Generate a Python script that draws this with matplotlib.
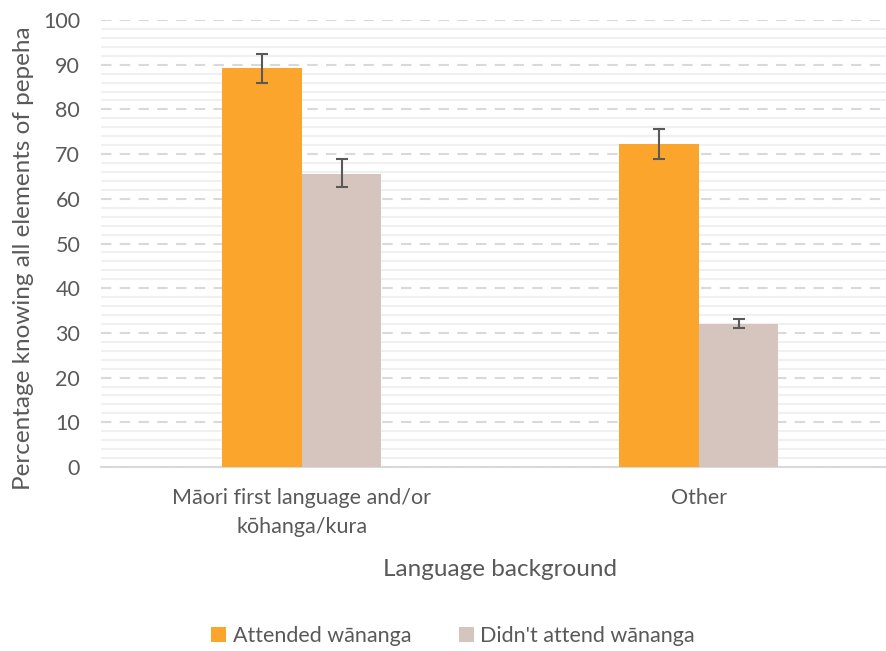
import numpy as np
import matplotlib
matplotlib.use("Agg")
import matplotlib.pyplot as plt
from matplotlib.ticker import MultipleLocator

# data
categories = ["Māori first language and/or\nkōhanga/kura", "Other"]
series_names = ["Attended wānanga", "Didn't attend wānanga"]
attended = [89.2, 72.2]
attended_err_low = [3.4, 3.2]
attended_err_high = [3.3, 3.4]
not_attended = [65.6, 32.1]
not_attended_err_low = [3.0, 1.1]
not_attended_err_high = [3.3, 1.1]
y_ticks = [0, 10, 20, 30, 40, 50, 60, 70, 80, 90, 100]

ORANGE = "#FBA52D"
BEIGE = "#D5C5BE"
TEXT = "#595959"

plt.rcParams['font.family'] = ['Lato', 'DejaVu Sans']

fig = plt.figure(figsize=(8.87, 6.51), dpi=100)
ax = fig.add_axes([101 / 887, 1 - 467 / 651, 1 - 101 / 887, (467 - 20) / 651])

x = np.arange(len(categories))
w = 0.2
err_kw = dict(ecolor=TEXT, elinewidth=1.5, capsize=4.5, capthick=1.5)
ax.bar(x - w / 2, attended, w, color=ORANGE, label=series_names[0],
       yerr=[attended_err_low, attended_err_high], error_kw=err_kw, zorder=3)
ax.bar(x + w / 2, not_attended, w, color=BEIGE, label=series_names[1],
       yerr=[not_attended_err_low, not_attended_err_high], error_kw=err_kw, zorder=3)

ax.set_xlim(-0.506, 1.474)
ax.set_ylim(0, 100)
ax.set_yticks(y_ticks)
ax.yaxis.set_minor_locator(MultipleLocator(2))
ax.grid(which="minor", axis="y", color="#F0F0F0", lw=1.5, zorder=0)
ax.grid(which="major", axis="y", color="#D9D9D9", lw=1.5, ls=(0, (5, 4)), zorder=1)
ax.set_axisbelow(True)

ax.set_xticks(x)
ax.set_xticklabels(categories, fontsize=15.5, color=TEXT, linespacing=1.55)
ax.tick_params(axis="x", length=0, pad=15)
ax.tick_params(axis="y", which="both", length=0, pad=15, labelsize=15.5, labelcolor=TEXT)

for s in ["top", "right", "left"]:
    ax.spines[s].set_visible(False)
ax.spines["bottom"].set_color("#D9D9D9")
ax.spines["bottom"].set_linewidth(1.5)

fig.text(24 / 887, 1 - 258 / 651, "Percentage knowing all elements of pepeha",
         rotation=90, ha="center", va="center", fontsize=17.5, color=TEXT)
fig.text(500 / 887, 1 - 570 / 651, "Language background",
         ha="center", va="center", fontsize=17.5, color=TEXT)

fig.legend(loc="center", bbox_to_anchor=(453 / 887, 1 - 636 / 651), ncol=2,
           frameon=False, fontsize=15.5, labelcolor=TEXT, handlelength=0.7,
           handleheight=0.7, handletextpad=0.3, columnspacing=2.2)

fig.savefig("out.png", dpi=100)
